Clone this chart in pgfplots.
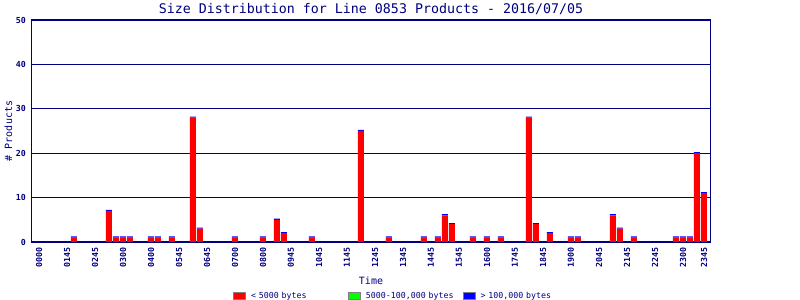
\documentclass[border=0pt]{standalone}
\usepackage{fontspec}
\usepackage{pgfplots}
\usepackage{pgfplotstable}
\pgfplotsset{compat=1.18}
\newfontfamily\mono{DejaVu Sans Mono}
\definecolor{navy}{RGB}{0,0,128}
\definecolor{bred}{RGB}{255,0,0}
\definecolor{bgreen}{RGB}{0,255,0}
\definecolor{bblue}{RGB}{0,0,255}
\pgfplotstableread{
bin red blue
5 1 0.25
10 7 0.25
11 1 0.25
12 1 0.25
13 1 0.25
16 1 0.25
17 1 0.25
19 1 0.25
22 28 0.25
23 3 0.25
28 1 0.25
32 1 0.25
34 5 0.25
35 2 0.25
39 1 0.25
46 25 0.25
50 1 0.25
55 1 0.25
57 1 0.25
58 6 0.25
59 4 0.25
62 1 0.25
64 1 0.25
66 1 0.25
70 28 0.25
71 4 0.25
73 2 0.25
76 1 0.25
77 1 0.25
82 6 0.25
83 3 0.25
85 1 0.25
91 1 0.25
92 1 0.25
93 1 0.25
94 20 0.25
95 11 0.25
}\sizedata
\begin{document}
\begin{tikzpicture}
\useasboundingbox (0,0) rectangle (800bp,300bp);
\begin{axis}[
  at={(31.5bp,58bp)}, anchor=south west,
  scale only axis, width=679bp, height=222bp,
  xmin=-1.07, xmax=95.93, ymin=0, ymax=50,
  ybar stacked, bar width=6bp,
  axis line style={navy, line width=1.2bp},
  ytick={0,10,20,30,40,50},
  ymajorgrids, grid style={navy, line width=1bp},
  major tick length=0pt,
  xtick={0,4,8,12,16,20,24,28,32,36,40,44,48,52,56,60,64,68,72,76,80,84,88,92,95},
  xticklabels={0000,0145,0245,0300,0400,0545,0645,0700,0800,0945,1045,1145,1245,1345,1445,1545,1600,1745,1845,1900,2045,2145,2245,2300,2345},
  /pgf/number format/assume math mode=true,
  yticklabel style={font=\mono\bfseries\fontsize{8.3bp}{9bp}\selectfont, text=navy, inner sep=0pt, anchor=east, xshift=-5.5bp},
  xticklabel style={font=\mono\bfseries\fontsize{8.3bp}{9bp}\selectfont, text=navy, inner sep=0pt, rotate=90, anchor=east, xshift=-5bp},
  title={Size Distribution for Line 0853 Products - 2016/07/05},
  title style={at={(axis description cs:0.5,1)}, anchor=base, yshift=0.5bp, inner sep=0pt, font=\mono\fontsize{13.3bp}{15bp}\selectfont, text=navy},
  xlabel={Time},
  xlabel style={at={(axis description cs:0.5,0)}, anchor=base, yshift=-42.5bp, font=\mono\fontsize{10bp}{12bp}\selectfont, text=navy},
  ylabel={\# Products},
  ylabel style={at={(axis description cs:-0.0287,0.5)}, anchor=base, font=\mono\fontsize{10bp}{12bp}\selectfont, text=navy},
  legend columns=3,
  legend style={at={(axis description cs:0.2968,-0.242)}, anchor=west, draw=none, fill=none,
    column sep=5bp, inner sep=0pt,
    nodes={inner sep=0pt, text width=92bp, align=left, font=\mono\fontsize{8.3bp}{9bp}\selectfont, text=navy}},
  legend cell align=left,
]
\addplot[fill=bred, draw=none, forget plot] table[x=bin, y=red] {\sizedata};
\addplot[fill=bblue, draw=none, forget plot] table[x=bin, y=blue] {\sizedata};
\addlegendimage{legend image code/.code={\draw[fill=bred, draw=gray, line width=0.8bp] (0bp,-3.5bp) rectangle (12bp,3.5bp);}}
\addlegendentry{< 5000 bytes}
\addlegendimage{legend image code/.code={\draw[fill=bgreen, draw=gray, line width=0.8bp] (0bp,-3.5bp) rectangle (12bp,3.5bp);}}
\addlegendentry{5000-100,000 bytes}
\addlegendimage{legend image code/.code={\draw[fill=bblue, draw=gray, line width=0.8bp] (0bp,-3.5bp) rectangle (12bp,3.5bp);}}
\addlegendentry{> 100,000 bytes}
\end{axis}
\end{tikzpicture}
\end{document}
